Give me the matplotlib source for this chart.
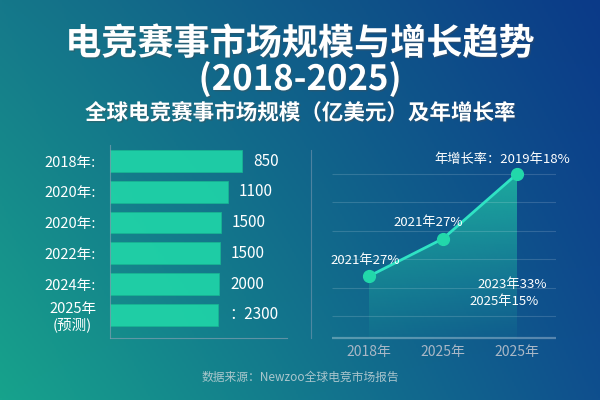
import numpy as np
import matplotlib.pyplot as plt
import matplotlib.patheffects as pe
from matplotlib.colors import to_rgb

plt.rcParams['font.family'] = ['Noto Sans CJK SC', 'DejaVu Sans']

# bar chart data (bar lengths as drawn, labels as printed)
bar_labels = ['2018年:', '2020年:', '2020年:', '2022年:', '2024年:', '2025年\n(预测)']
bar_lengths = [132, 118, 111, 110, 109, 108]
bar_texts = ['850', '1100', '1500', '1500', '2000', '：2300']

# growth line data
line_ticks = ['2018年', '2025年', '2025年']
line_values = [12.0, 18.6, 30.0]
grid_levels = [5, 10, 15, 20, 25, 30]

fig = plt.figure(figsize=(6, 4), dpi=100)

# background gradient
bg = fig.add_axes([0, 0, 1, 1], zorder=-10)
tl, tr = np.array(to_rgb('#15788a')), np.array(to_rgb('#0b3a88'))
bl, br = np.array(to_rgb('#17a38c')), np.array(to_rgb('#0f4f8e'))
u = np.linspace(0, 1, 300)[None, :, None]
v = np.linspace(0, 1, 200)[:, None, None]
img = (1 - v) * ((1 - u) * tl + u * tr) + v * ((1 - u) * bl + u * br)
bg.imshow(img, aspect='auto', extent=[0, 1, 0, 1], origin='upper')
bg.axis('off')

shadow = [pe.withSimplePatchShadow(offset=(1, -1), alpha=0.35)]
fig.text(0.5, 1 - 44 / 400, '电竞赛事市场规模与增长趋势', ha='center', va='center',
         fontsize=26, fontweight='bold', color='white', path_effects=shadow)
fig.text(0.5, 1 - 79 / 400, '(2018-2025)', ha='center', va='center',
         fontsize=25, fontweight='bold', color='white', path_effects=shadow)
fig.text(0.5, 1 - 113 / 400, '全球电竞赛事市场规模（亿美元）及年增长率', ha='center', va='center',
         fontsize=15.5, fontweight='bold', color='white', path_effects=shadow)

# left: horizontal bars
ax1 = fig.add_axes([110 / 600, 62 / 400, 177 / 600, 193 / 400])
ax1.patch.set_alpha(0)
pos = np.arange(len(bar_lengths))
ax1.barh(pos, bar_lengths, height=0.71, color='#20d4a8', alpha=0.92,
         edgecolor='#17b592', linewidth=0.6)
for y, w, t in zip(pos, bar_lengths, bar_texts):
    ax1.text(w + 11, y, t, va='center', ha='left', fontsize=11, color='white')
ax1.set_xlim(0, 177)
ax1.set_ylim(5.75, -0.52)
ax1.set_yticks(pos)
ax1.set_yticklabels(bar_labels, fontsize=10.5, color='white', multialignment='center',
                    linespacing=1.1)
ax1.tick_params(axis='y', length=0, pad=10)
ax1.set_xticks([])
for s in ['top', 'right']:
    ax1.spines[s].set_visible(False)
for s in ['left', 'bottom']:
    ax1.spines[s].set_color('#7f9fb0')
    ax1.spines[s].set_alpha(0.7)

# right: growth line
ax2 = fig.add_axes([311 / 600, 62 / 400, 245 / 600, 188 / 400])
ax2.patch.set_alpha(0)
x = np.arange(len(line_values))
ax2.set_xlim(-0.784, 2.527)
ax2.set_ylim(1.13, 34.2)
ax2.hlines(grid_levels, -0.5, 2.527, color='white', alpha=0.15, lw=0.8)
ax2.hlines(1.13, -0.5, 2.527, color='white', alpha=0.3, lw=1.6, clip_on=False)

# gradient fill under the line
poly = ax2.fill_between(x, line_values, 1.13, color='none')
grad = np.zeros((100, 2, 4))
grad[..., :3] = to_rgb('#22c9a6')
grad[..., 3] = np.linspace(0.75, 0.05, 100)[:, None]
im = ax2.imshow(grad, aspect='auto', extent=[0, 2, 1.13, max(line_values)],
                origin='upper', zorder=1)
im.set_clip_path(poly.get_paths()[0], transform=ax2.transData)

ax2.plot(x, line_values, color='#2fe3c4', lw=2, zorder=3)
ax2.plot(x, line_values, 'o', color='#22d8aa', ms=8.5, zorder=4)

notes = [('年增长率：2019年18%', 1.80, 32.6), ('2021年27%', 0.80, 21.4),
         ('2021年27%', -0.05, 14.7), ('2023年33%', 1.93, 10.6),
         ('2025年15%', 1.82, 7.6)]
for t, tx, ty in notes:
    ax2.text(tx, ty, t, ha='center', va='center', fontsize=9.5, color='white', zorder=5)

ax2.set_xticks(x)
ax2.set_xticklabels(line_ticks, fontsize=10, color='#a9b7c6')
ax2.tick_params(axis='x', length=0, pad=5)
ax2.set_yticks([])
for s in ['top', 'right', 'bottom']:
    ax2.spines[s].set_visible(False)
ax2.spines['left'].set_color('#8aa0b8')
ax2.spines['left'].set_alpha(0.5)

fig.text(0.5, 1 - 377 / 400, '数据来源：Newzoo全球电竞市场报告', ha='center', va='center',
         fontsize=8.5, color='#c4d4d8', alpha=0.85)

fig.savefig('out.png', dpi=100)
